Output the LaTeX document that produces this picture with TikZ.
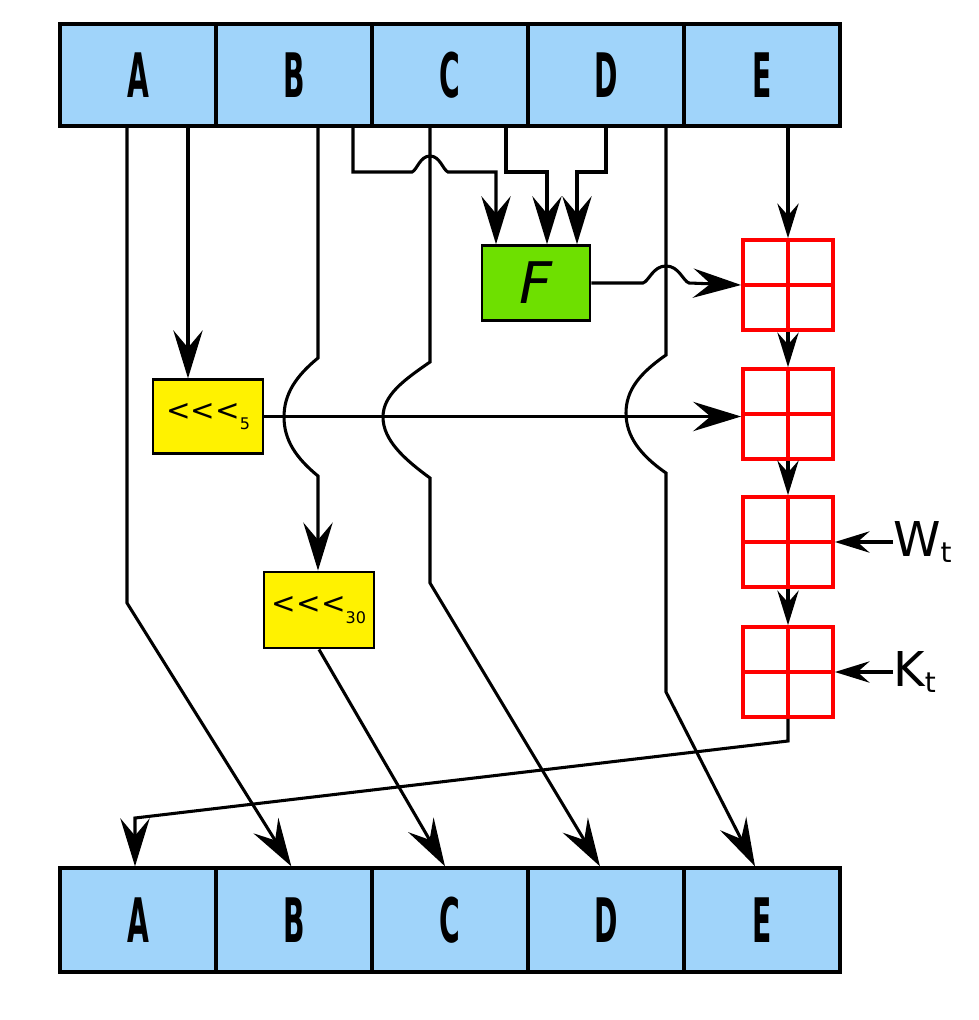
\documentclass[tikz,border=0pt]{standalone}
\usepackage{fontspec}
\setmainfont{DejaVu Sans}
\newfontfamily\regfont{DejaVu Sans}[FakeStretch=0.46]
\usetikzlibrary{arrows.meta,calc}
\definecolor{regblue}{HTML}{A0D4FA}
\definecolor{fgreen}{HTML}{6EE000}
\definecolor{addred}{HTML}{FF0000}
\tikzset{
  reg/.style={draw=black, line width=3pt, fill=regblue, minimum width=117pt,
    minimum height=76.5pt, inner sep=0pt, font=\regfont\bfseries\fontsize{46}{46}\selectfont},
  rotbox/.style={draw=black, line width=2.2pt, fill=yellow, minimum width=82.5pt,
    minimum height=55pt, inner sep=0pt},
  fbox/.style={draw=black, line width=2.2pt, fill=fgreen, minimum width=81pt,
    minimum height=56pt, inner sep=0pt},
  adder/.style={draw=addred, line width=2.8pt, fill=white, minimum width=67.5pt,
    minimum height=67.5pt, inner sep=0pt,
    path picture={\draw[addred, line width=2.8pt]
      (path picture bounding box.north) -- (path picture bounding box.south)
      (path picture bounding box.west) -- (path picture bounding box.east);}},
  conn/.style={line width=2.3pt},
  bigarrow/.style={conn, -{Stealth[length=36pt,width=22pt,inset=13pt]}},
  smallarrow/.style={conn, -{Stealth[length=26pt,width=16pt,inset=9pt]}},
  lbl/.style={inner sep=0pt, anchor=west},
}
\newcommand{\rotlabel}[1]{{\fontsize{22}{22}\selectfont <\kern0pt<\kern0pt<}\raisebox{-7pt}{\fontsize{12}{12}\selectfont #1}}
\newcommand{\sublabel}[2]{{\fontsize{36}{36}\selectfont #1}\raisebox{-5pt}{\fontsize{21}{21}\selectfont #2}}
\begin{document}
\begin{tikzpicture}[x=0.75pt, y=-0.75pt]
\useasboundingbox (0,0) rectangle (978,1020);

% registers
\node[reg] (tA) at (138,75) {A};
\node[reg] (tB) at (294,75) {B};
\node[reg] (tC) at (450,75) {C};
\node[reg] (tD) at (606,75) {D};
\node[reg] (tE) at (762,75) {E};
\node[reg, minimum height=77.5pt] (bA) at (138,920) {A};
\node[reg, minimum height=77.5pt] (bB) at (294,920) {B};
\node[reg, minimum height=77.5pt] (bC) at (450,920) {C};
\node[reg, minimum height=77.5pt] (bD) at (606,920) {D};
\node[reg, minimum height=77.5pt] (bE) at (762,920) {E};

% function and rotations
\node[fbox] (F) at (536,283) {\fontsize{43}{43}\selectfont\itshape F};
\node[rotbox] (r5) at (208,416.5) {\rotlabel{5}};
\node[rotbox, minimum height=57pt] (r30) at (319,610) {\rotlabel{30}};

% adders
\node[adder] (add1) at (788,285) {};
\node[adder] (add2) at (788,414) {};
\node[adder] (add3) at (788,542) {};
\node[adder] (add4) at (788,672) {};

% external inputs
\node[lbl] (W) at (893,542) {\sublabel{W}{t}};
\node[lbl] (K) at (893,672) {\sublabel{K}{t}};

% x positions of taps
\coordinate (xa1) at (127,0);
\coordinate (xa2) at (188,0);
\coordinate (xb1) at (318,0);
\coordinate (xb2) at (353,0);
\coordinate (xc1) at (430,0);
\coordinate (xc2) at (506,0);
\coordinate (xd1) at (606,0);
\coordinate (xd2) at (666,0);
\coordinate (xf1) at (496,0);
\coordinate (xf2) at (547,0);
\coordinate (xf3) at (577,0);

% A -> B
\draw[bigarrow] (xa1 |- tA.south) -- (127,603) -- ([xshift=-2pt]bB.north);
% A -> rot5
\draw[bigarrow] (xa2 |- tA.south) -- (xa2 |- r5.north);
% B -> rot30
\draw[bigarrow] (xb1 |- tB.south) -- (318,358)
  .. controls (296,376) and (284,394) .. (284,417)
  .. controls (284,440) and (296,458) .. (318,476) -- (xb1 |- r30.north);
% rot30 -> C
\draw[bigarrow] (r30.south) -- ([xshift=-3.75pt]bC.north);
% C -> D
\draw[bigarrow] (xc1 |- tC.south) -- (430,362)
  .. controls (404,380) and (383,395) .. (383,417)
  .. controls (383,440) and (404,459) .. (430,478) -- (430,583)
  -- ([xshift=-4.5pt]bD.north);
% D -> E
\draw[bigarrow] (xd2 |- tD.south) -- (666,355)
  .. controls (640,373) and (626,390) .. (626,413)
  .. controls (626,436) and (640,455) .. (666,473) -- (666,692)
  -- ([xshift=-5.25pt]bE.north);

% inputs of F
\draw[bigarrow] (xb2 |- tB.south) -- (353,172) -- (412,172)
  .. controls (417,170) and (420,156) .. (430,156)
  .. controls (440,156) and (443,170) .. (448,172)
  -- (496,172) -- (xf1 |- F.north);
\draw[bigarrow] (xc2 |- tC.south) -- (506,172) -- (547,172) -- (xf2 |- F.north);
\draw[bigarrow] (xd1 |- tD.south) -- (606,172) -- (577,172) -- (xf3 |- F.north);

% F -> adder 1
\draw[bigarrow] (F.east) -- (643,283)
  .. controls (649,281) and (653,266) .. (666,266)
  .. controls (679,266) and (683,281) .. (689,283) -- (add1.west);
% E -> adder 1
\draw[smallarrow] (tE.south -| add1.north) -- (add1.north);
% rot5 -> adder 2
\draw[bigarrow] (r5.east) -- (r5.east -| add2.west);
% adder chain
\draw[smallarrow] (add1.south) -- (add2.north);
\draw[smallarrow] (add2.south) -- (add3.north);
\draw[smallarrow] (add3.south) -- (add4.north);
\draw[smallarrow] (W.west) -- (add3.east);
\draw[smallarrow] (K.west) -- (add4.east);
% adder 4 -> A
\draw[bigarrow] (add4.south) -- (788,741) -- (135,818) -- ([xshift=-2.25pt]bA.north);
\end{tikzpicture}
\end{document}
